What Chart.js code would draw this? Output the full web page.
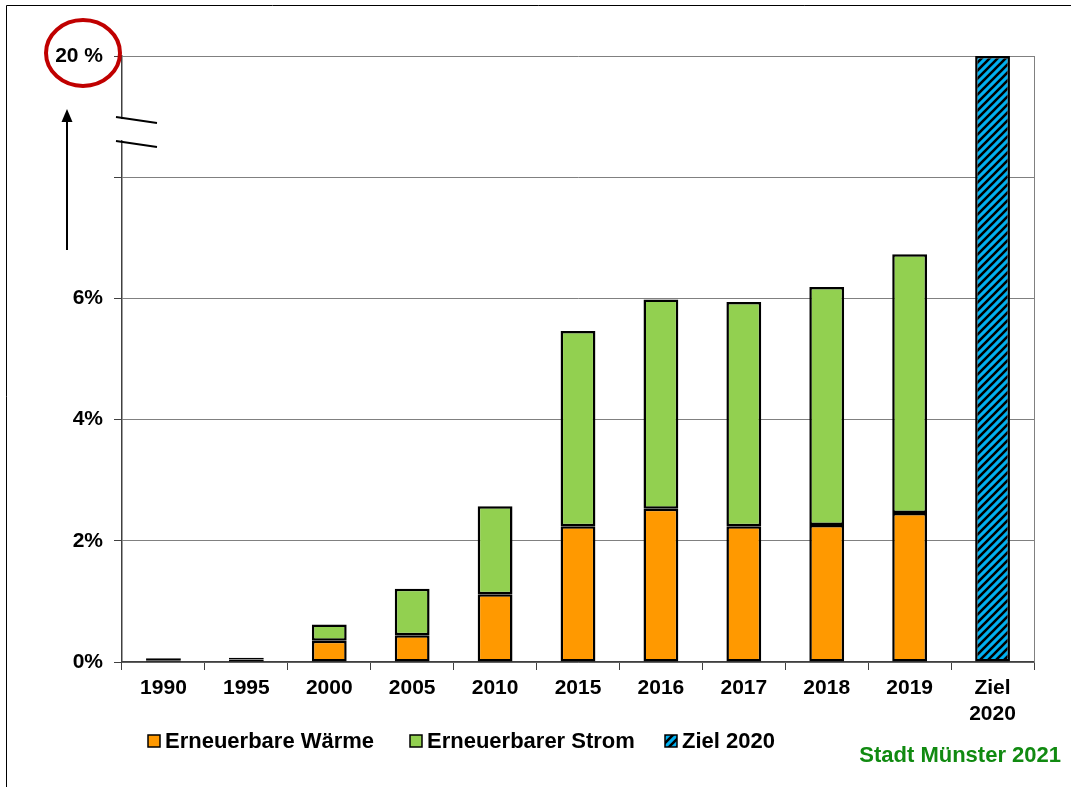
<!DOCTYPE html>
<html>
<head>
<meta charset="utf-8">
<script src="https://cdn.jsdelivr.net/npm/chart.js@4"></script>
<style>
  html, body { margin: 0; padding: 0; background: #fff; }
  #wrap { width: 1071px; height: 787px; position: relative; }
</style>
</head>
<body>
<div id="wrap"><canvas id="chart" width="1071" height="787"></canvas></div>
<script>
// categories on the x axis
const categories = ['1990', '1995', '2000', '2005', '2010', '2015', '2016', '2017', '2018', '2019', ['Ziel', '2020']];

// shares in percent (axis units; the top gridline 10 stands for the broken 20 % mark)
const waerme = [0.03, 0.04, 0.35, 0.44, 1.12, 2.24, 2.53, 2.24, 2.26, 2.46, null];
const strom = [0.03, 0.03, 0.27, 0.77, 1.45, 3.22, 3.45, 3.70, 3.93, 4.27, null];
const ziel = [null, null, null, null, null, null, null, null, null, null, 10];

const yTicks = { 0: '0%', 2: '2%', 4: '4%', 6: '6%', 8: '', 10: '20 %' };
const seriesNames = ['Erneuerbare Wärme', 'Erneuerbarer Strom', 'Ziel 2020'];
const sourceText = 'Stadt Münster 2021';

const FONT = 'Liberation Sans, Arial, sans-serif';

function makeHatch() {
  const c = document.createElement('canvas');
  c.width = 8;
  c.height = 8;
  const g = c.getContext('2d');
  g.fillStyle = '#00b0f0';
  g.fillRect(0, 0, 8, 8);
  g.strokeStyle = '#000';
  g.lineWidth = 2.6;
  g.beginPath();
  // "/" direction stripes, tiled seamlessly
  g.moveTo(-2, 2); g.lineTo(2, -2);
  g.moveTo(-2, 10); g.lineTo(10, -2);
  g.moveTo(6, 10); g.lineTo(10, 6);
  g.stroke();
  return g.createPattern(c, 'repeat');
}

const hatch = makeHatch();

const extras = {
  id: 'extras',
  afterDraw(chart) {
    const ctx = chart.ctx;
    const area = chart.chartArea;
    const y = chart.scales.y;
    ctx.save();

    // right border of the plot
    ctx.strokeStyle = '#808080';
    ctx.lineWidth = 1;
    ctx.beginPath();
    ctx.moveTo(area.right + 0.5, area.top);
    ctx.lineTo(area.right + 0.5, area.bottom);
    ctx.stroke();

    // axis break
    ctx.fillStyle = '#fff';
    ctx.beginPath();
    ctx.moveTo(114, 118);
    ctx.lineTo(158, 124);
    ctx.lineTo(158, 145);
    ctx.lineTo(114, 139);
    ctx.closePath();
    ctx.fill();
    ctx.strokeStyle = '#000';
    ctx.lineWidth = 2;
    ctx.beginPath();
    ctx.moveTo(116, 117); ctx.lineTo(157, 123);
    ctx.moveTo(116, 141); ctx.lineTo(157, 147);
    ctx.stroke();

    // arrow
    ctx.lineWidth = 2;
    ctx.beginPath();
    ctx.moveTo(67, 250); ctx.lineTo(67, 118);
    ctx.stroke();
    ctx.fillStyle = '#000';
    ctx.beginPath();
    ctx.moveTo(67, 109); ctx.lineTo(61.5, 122); ctx.lineTo(72.5, 122);
    ctx.closePath();
    ctx.fill();

    // red ellipse round the 20 % label
    const ty = y.getPixelForValue(10);
    ctx.strokeStyle = '#c00000';
    ctx.lineWidth = 4;
    ctx.beginPath();
    ctx.ellipse(83, ty - 3, 37, 33, 0, 0, Math.PI * 2);
    ctx.stroke();

    // legend
    const legendY = 741;
    const items = [
      { x: 148, color: '#ff9900' },
      { x: 410, color: '#92d050' },
      { x: 665, color: hatch }
    ];
    ctx.font = 'bold 22px ' + FONT;
    ctx.textBaseline = 'middle';
    items.forEach((it, i) => {
      ctx.fillStyle = it.color;
      ctx.fillRect(it.x, legendY - 6, 12, 12);
      ctx.strokeStyle = '#000';
      ctx.lineWidth = 1.5;
      ctx.strokeRect(it.x, legendY - 6, 12, 12);
      ctx.fillStyle = '#000';
      ctx.fillText(seriesNames[i], it.x + 17, legendY + 1);
    });

    // source
    ctx.fillStyle = '#118a11';
    ctx.font = 'bold 22px ' + FONT;
    ctx.textAlign = 'right';
    ctx.fillText(sourceText, 1061, 756);

    // frame
    ctx.strokeStyle = '#000';
    ctx.lineWidth = 1;
    ctx.beginPath();
    ctx.moveTo(6.5, 787); ctx.lineTo(6.5, 5.5); ctx.lineTo(1071, 5.5);
    ctx.stroke();

    ctx.restore();
  }
};

const barCommon = {
  borderColor: '#000',
  borderWidth: 2.5,
  borderSkipped: false,
  barPercentage: 0.42,
  categoryPercentage: 1,
  stack: 's'
};

new Chart(document.getElementById('chart'), {
  type: 'bar',
  data: {
    labels: categories,
    datasets: [
      Object.assign({ label: seriesNames[0], data: waerme, backgroundColor: '#ff9900' }, barCommon),
      Object.assign({ label: seriesNames[1], data: strom, backgroundColor: '#92d050' }, barCommon),
      Object.assign({ label: seriesNames[2], data: ziel, backgroundColor: hatch }, barCommon)
    ]
  },
  options: {
    responsive: false,
    animation: false,
    layout: { padding: { left: 0, right: 37, top: 56, bottom: 60 } },
    plugins: {
      legend: { display: false },
      tooltip: { enabled: false }
    },
    scales: {
      x: {
        stacked: true,
        afterFit(scale) { scale.height = 65; },
        grid: {
          offset: true,
          drawOnChartArea: false,
          tickLength: 8,
          color: '#404040'
        },
        border: { color: '#404040', width: 1.5 },
        ticks: {
          color: '#000',
          padding: 5,
          maxRotation: 0,
          font: { family: FONT, size: 21, weight: 'bold', lineHeight: 1.25 }
        }
      },
      y: {
        stacked: true,
        min: 0,
        max: 10,
        afterFit(scale) { scale.width = 122; },
        grid: {
          color: '#808080',
          tickColor: '#404040',
          tickLength: 8,
          lineWidth: 1
        },
        border: { color: '#404040', width: 1.5 },
        ticks: {
          stepSize: 2,
          color: '#000',
          padding: 11,
          font: { family: FONT, size: 21, weight: 'bold' },
          callback: (v) => yTicks[v]
        }
      }
    }
  },
  plugins: [extras]
});
</script>
</body>
</html>
